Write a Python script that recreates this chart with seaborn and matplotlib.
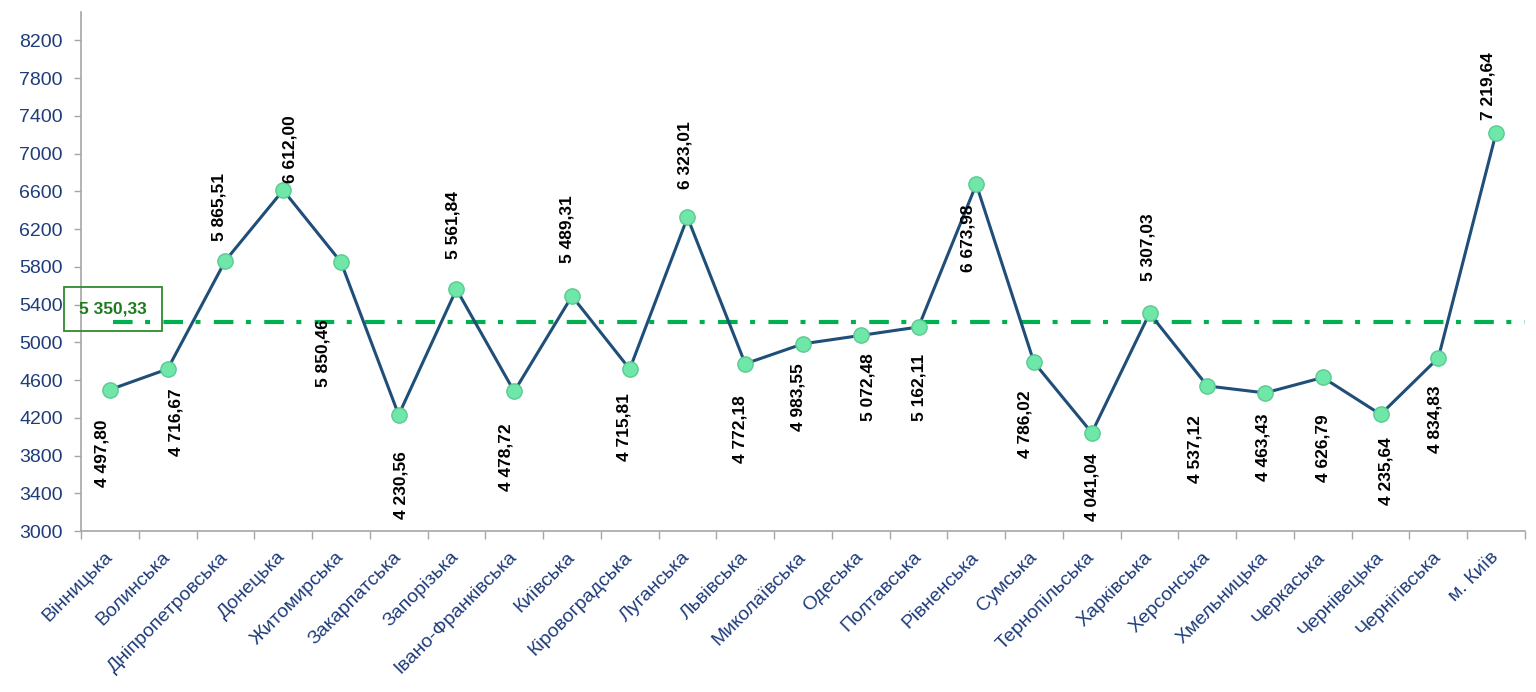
import matplotlib
matplotlib.use('Agg')
import matplotlib.pyplot as plt
import seaborn as sns
import pandas as pd
import numpy as np

# Дані
regions = ['Вінницька', 'Волинська', 'Дніпропетровська', 'Донецька', 'Житомирська',
           'Закарпатська', 'Запорізька', 'Івано-Франківська', 'Київська', 'Кіровоградська',
           'Луганська', 'Львівська', 'Миколаївська', 'Одеська', 'Полтавська',
           'Рівненська', 'Сумська', 'Тернопільська', 'Харківська', 'Херсонська',
           'Хмельницька', 'Черкаська', 'Чернівецька', 'Чернігівська', 'м. Київ']
values = [4497.80, 4716.67, 5865.51, 6612.00, 5850.46,
          4230.56, 5561.84, 4478.72, 5489.31, 4715.81,
          6323.01, 4772.18, 4983.55, 5072.48, 5162.11,
          6673.98, 4786.02, 4041.04, 5307.03, 4537.12,
          4463.43, 4626.79, 4235.64, 4834.83, 7219.64]
avg_label_value = 5350.33
avg_line_value = 5210
y_ticks = list(range(3000, 8201, 400))

# Розміщення підписів: +1 над точкою, -1 під точкою; відступ у пікселях
label_side = [-1, -1, 1, 1, -1, -1, 1, -1, 1, -1,
              1, -1, -1, -1, -1, -1, -1, -1, 1, -1,
              -1, -1, -1, -1, 1]
label_gap = [30, 19, 20, 7, 57, 36, 30, 32, 33, 24,
             28, 31, 19, 18, 27, 20, 28, 21, 32, 29,
             21, 37, 23, 28, 13]
label_dx = [-8, 8, -6, 7, -18, 2, -3, -8, -5, -6,
            -2, -5, -5, 7, 0, -8, -9, 0, -2, -12,
            -2, 0, 5, -3, -8]

df = pd.DataFrame({'region': regions, 'value': values})

def fmt(v):
    return f'{v:,.2f}'.replace(',', ' ').replace('.', ',')

sns.set_style('white')
plt.rcParams['font.family'] = ['Liberation Sans', 'DejaVu Sans']

fig = plt.figure(figsize=(15.36, 6.92), dpi=100)
ax = fig.add_axes([81 / 1536, 1 - 531 / 692, 1444 / 1536, 519 / 692])

# Середнє значення
ax.axhline(avg_line_value, xmin=0.022, xmax=1.0, color='#00B050', lw=3.0,
           dashes=(4.7, 3, 1.2, 3.2), zorder=1)

sns.lineplot(data=df, x='region', y='value', sort=False, ax=ax,
             color='#1F4E79', lw=2.2, marker='o', markersize=11,
             markerfacecolor='#6EE7A9', markeredgecolor='#5ACB8F',
             markeredgewidth=1, zorder=3)

# Підписи значень
px = 72 / 100
for i, v in enumerate(values):
    side = label_side[i]
    ax.annotate(fmt(v), xy=(i, v),
                xytext=(label_dx[i] * px, side * label_gap[i] * px),
                textcoords='offset points', rotation=90, ha='center',
                va='bottom' if side > 0 else 'top', fontsize=12.5,
                fontweight='bold', color='black', zorder=4)

# Підпис середнього
fig.text(113 / 1536, 1 - 309 / 692, fmt(avg_label_value), ha='center', va='center',
         fontsize=12.5, fontweight='bold', color='#1E7B1E',
         bbox=dict(boxstyle='square,pad=0.85', fc='none', ec='#2E8B2E', lw=1.3))

ax.set_xlim(-0.5, len(regions) - 0.5)
ax.set_ylim(3000, 8500)
ax.set_yticks(y_ticks)
ax.set_xticks(range(len(regions)))
ax.set_xticks(np.arange(-0.5, len(regions), 1.0), minor=True)
ax.set_xticklabels(regions, rotation=45, ha='right', va='center',
                   rotation_mode='anchor', fontsize=14, color='#1F3C7A')
ax.tick_params(axis='x', which='major', length=0, pad=17)
ax.tick_params(axis='x', which='minor', length=5.5, width=1, color='#A6A6A6',
               direction='out', bottom=True)
ax.tick_params(axis='y', length=5, width=1, color='#A6A6A6', direction='out',
               left=True, labelsize=14, labelcolor='#1F3C7A', pad=8)
ax.set_xlabel('')
ax.set_ylabel('')

for s in ['top', 'right']:
    ax.spines[s].set_visible(False)
for s in ['left', 'bottom']:
    ax.spines[s].set_color('#A6A6A6')
    ax.spines[s].set_linewidth(1.2)

fig.savefig('out.png', dpi=100)
